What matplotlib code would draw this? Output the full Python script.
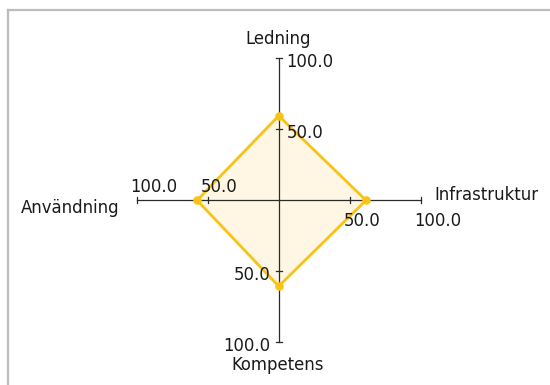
import numpy as np
import matplotlib
matplotlib.use('Agg')
import matplotlib.pyplot as plt
from matplotlib.lines import Line2D

# data
categories = ['Ledning', 'Infrastruktur', 'Kompetens', 'Användning']
values = [59.5, 61.5, 60.5, 57.5]
tick_values = [50.0, 100.0]
max_value = 100.0

px_per_unit = 1.42
center_px = (278.7, 200.3)
W, H = 550, 385

edge_color = '#f8c315'
fill_color = '#fff7e3'
axis_color = '#2a2a2a'
text_color = '#1a1a1a'
fsize = 11.9


def spoke_dirs(n):
    # clockwise from the top
    ang = np.pi / 2 - np.arange(n) * 2 * np.pi / n
    return np.cos(ang), np.sin(ang)


fig = plt.figure(figsize=(W / 100, H / 100), dpi=100)
ax = fig.add_axes([0, 0, 1, 1])
ax.set_xlim(-center_px[0] / px_per_unit, (W - center_px[0]) / px_per_unit)
ax.set_ylim(-(H - center_px[1]) / px_per_unit, center_px[1] / px_per_unit)
ax.axis('off')

# frame on top and left
fig.add_artist(Line2D([7.5 / W, 1], [1 - 9.5 / H] * 2, transform=fig.transFigure,
                      color='#bdbdbd', lw=1.6))
fig.add_artist(Line2D([7.5 / W] * 2, [0, 1 - 9.5 / H], transform=fig.transFigure,
                      color='#bdbdbd', lw=1.6))

dx, dy = spoke_dirs(len(categories))
vals = np.array(values)

# polygon
px = np.append(vals * dx, vals[0] * dx[0])
py = np.append(vals * dy, vals[0] * dy[0])
ax.fill(px, py, color=fill_color, zorder=1)

# spokes and ticks
tick_half = 3.0 / px_per_unit
for cx, cy in zip(dx, dy):
    ax.plot([0, max_value * cx], [0, max_value * cy], color=axis_color, lw=0.9,
            zorder=2)
    for tv in tick_values:
        x0, y0 = tv * cx, tv * cy
        ax.plot([x0 - tick_half * cy, x0 + tick_half * cy],
                [y0 - tick_half * cx, y0 + tick_half * cx],
                color=axis_color, lw=0.9, zorder=2)

ax.plot(px, py, color=edge_color, lw=2.0, zorder=3, solid_joinstyle='miter')
ax.scatter(vals * dx, vals * dy, s=38, color=edge_color, zorder=4, lw=0)

# tick labels per spoke
u = 1 / px_per_unit
for tv in tick_values:
    lab = '%.1f' % tv
    ax.text(8 * u, tv - 3.7 * u, lab, ha='left', va='center', fontsize=fsize,
            color=text_color)
    ax.text(tv - 6 * u, -20.5 * u, lab, ha='left', va='center', fontsize=fsize,
            color=text_color)
    ax.text(-8 * u, -tv - 4 * u, lab, ha='right', va='center', fontsize=fsize,
            color=text_color)
    ax.text(-tv - 6.5 * u, 13.5 * u, lab, ha='left', va='center', fontsize=fsize,
            color=text_color)

# category labels
ax.text(-0.7, 113.6, categories[0], ha='center', va='center', fontsize=fsize,
        color=text_color)
ax.text(109.3, 3.5, categories[1], ha='left', va='center', fontsize=fsize,
        color=text_color)
ax.text(-0.7, -116, categories[2], ha='center', va='center', fontsize=fsize,
        color=text_color)
ax.text(-111.8, -5.5, categories[3], ha='right', va='center', fontsize=fsize,
        color=text_color)

fig.savefig('out.png', dpi=100)
